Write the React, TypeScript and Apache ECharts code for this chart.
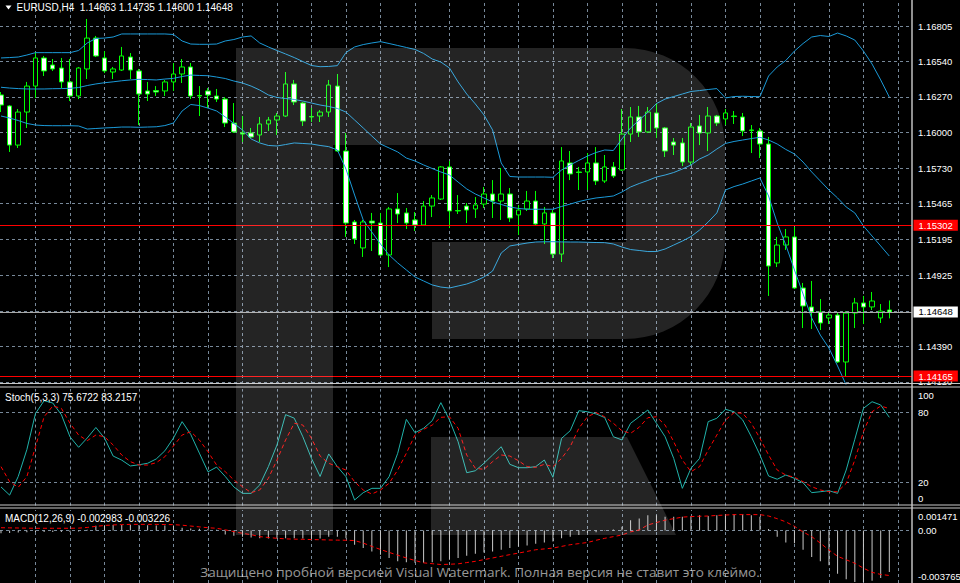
import React, { useEffect, useRef } from 'react';
import * as echarts from 'echarts';

// ---------- data (EURUSD, H4) ----------
const opens = [1.16285, 1.16202, 1.15907, 1.16156, 1.16352, 1.16564, 1.16511, 1.16488, 1.16383, 1.16277,
  1.16481, 1.16714, 1.16564, 1.16458, 1.16473, 1.16571, 1.16466, 1.16315, 1.16318, 1.16315,
  1.16383, 1.16443, 1.16496, 1.16281, 1.16315, 1.16277, 1.16254, 1.16073, 1.15998, 1.15998,
  1.15983, 1.16066, 1.16096, 1.16126, 1.16368, 1.16224, 1.16122, 1.16126, 1.16156, 1.16352,
  1.15862, 1.15327, 1.15131, 1.15334, 1.15319, 1.15078, 1.15425, 1.15395, 1.15342, 1.15304,
  1.15447, 1.15500, 1.15742, 1.15413, 1.15447, 1.15425, 1.15462, 1.15538, 1.15485, 1.15538,
  1.15380, 1.15425, 1.15485, 1.15312, 1.15395, 1.15085, 1.15772, 1.15704, 1.15704, 1.15772,
  1.15636, 1.15742, 1.15719, 1.15990, 1.16119, 1.16006, 1.16149, 1.16036, 1.15930, 1.15923,
  1.15779, 1.16051, 1.15998, 1.16126, 1.16104, 1.16126, 1.16119, 1.16021, 1.16013, 1.15915,
  1.15018, 1.15153, 1.15214, 1.14829, 1.14686, 1.14648, 1.14603, 1.14625, 1.14271, 1.14640,
  1.14716, 1.14686, 1.14603, 1.14663];

const highs = [1.16307, 1.16209, 1.16179, 1.16383, 1.16609, 1.16579, 1.16556, 1.16564, 1.16556, 1.16496,
  1.16858, 1.16730, 1.16616, 1.16496, 1.16647, 1.16601, 1.16481, 1.16383, 1.16352, 1.16398,
  1.16526, 1.16556, 1.16526, 1.16352, 1.16337, 1.16330, 1.16269, 1.16224, 1.16126, 1.16036,
  1.16119, 1.16119, 1.16149, 1.16458, 1.16398, 1.16232, 1.16187, 1.16171, 1.16398, 1.16443,
  1.15998, 1.15342, 1.15342, 1.15395, 1.15395, 1.15440, 1.15545, 1.15432, 1.15402, 1.15485,
  1.15530, 1.15749, 1.15787, 1.15530, 1.15470, 1.15515, 1.15591, 1.15643, 1.15734, 1.15583,
  1.15455, 1.15561, 1.15561, 1.15440, 1.15417, 1.15892, 1.15862, 1.15742, 1.15847, 1.15892,
  1.15832, 1.15779, 1.16179, 1.16194, 1.16202, 1.16194, 1.16224, 1.16043, 1.15960, 1.15960,
  1.16073, 1.16134, 1.16194, 1.16134, 1.16179, 1.16164, 1.16149, 1.16058, 1.16036, 1.15968,
  1.15214, 1.15274, 1.15289, 1.14867, 1.14882, 1.14746, 1.14648, 1.14640, 1.14655, 1.14754,
  1.14769, 1.14799, 1.14708, 1.14735];

const lows = [1.16156, 1.15855, 1.15885, 1.16036, 1.16262, 1.16428, 1.16466, 1.16337, 1.16239, 1.16254,
  1.16405, 1.16571, 1.16450, 1.16405, 1.16466, 1.16405, 1.16058, 1.16239, 1.16277, 1.16277,
  1.16315, 1.16375, 1.16254, 1.16126, 1.16187, 1.16232, 1.16043, 1.15998, 1.15930, 1.15960,
  1.15930, 1.16013, 1.15983, 1.16119, 1.16209, 1.16051, 1.16081, 1.16081, 1.16119, 1.15855,
  1.15214, 1.15161, 1.15063, 1.15108, 1.15070, 1.14987, 1.15319, 1.15274, 1.15259, 1.15297,
  1.15364, 1.15493, 1.15281, 1.15387, 1.15319, 1.15357, 1.15432, 1.15357, 1.15342, 1.15327,
  1.15229, 1.15410, 1.15297, 1.15161, 1.15055, 1.15025, 1.15643, 1.15568, 1.15568, 1.15606,
  1.15621, 1.15659, 1.15711, 1.15930, 1.15968, 1.15998, 1.15960, 1.15817, 1.15832, 1.15749,
  1.15757, 1.15907, 1.15862, 1.16051, 1.16058, 1.16066, 1.15975, 1.15847, 1.15809, 1.14769,
  1.14987, 1.15116, 1.14821, 1.14527, 1.14520, 1.14512, 1.14557, 1.14263, 1.14165, 1.14527,
  1.14557, 1.14663, 1.14565, 1.14600];

const closes = [1.16209, 1.15907, 1.16156, 1.16352, 1.16564, 1.16466, 1.16481, 1.16383, 1.16277, 1.16488,
  1.16714, 1.16579, 1.16466, 1.16481, 1.16579, 1.16473, 1.16292, 1.16292, 1.16307, 1.16383,
  1.16443, 1.16496, 1.16277, 1.16277, 1.16285, 1.16254, 1.16073, 1.16006, 1.15990, 1.15968,
  1.16066, 1.16096, 1.16126, 1.16368, 1.16232, 1.16088, 1.16119, 1.16156, 1.16360, 1.15862,
  1.15319, 1.15199, 1.15327, 1.15319, 1.15078, 1.15425, 1.15387, 1.15319, 1.15304, 1.15447,
  1.15508, 1.15742, 1.15410, 1.15410, 1.15417, 1.15455, 1.15538, 1.15485, 1.15538, 1.15357,
  1.15417, 1.15485, 1.15312, 1.15395, 1.15085, 1.15787, 1.15689, 1.15700, 1.15772, 1.15636,
  1.15742, 1.15674, 1.15990, 1.16119, 1.16006, 1.16156, 1.16036, 1.15862, 1.15907, 1.15779,
  1.16043, 1.15998, 1.16126, 1.16073, 1.16149, 1.16122, 1.16013, 1.16017, 1.15915, 1.14995,
  1.15153, 1.15214, 1.14829, 1.14693, 1.14648, 1.14565, 1.14625, 1.14271, 1.14640, 1.14716,
  1.14686, 1.14731, 1.14655, 1.14648];

const bbUpper = [1.16564, 1.16567, 1.16571, 1.16586, 1.16604, 1.16604, 1.16604, 1.16604, 1.16604, 1.16620,
  1.16677, 1.16711, 1.16714, 1.16722, 1.16745, 1.16745, 1.16745, 1.16745, 1.16745, 1.16745,
  1.16741, 1.16692, 1.16669, 1.16667, 1.16667, 1.16669, 1.16692, 1.16703, 1.16722, 1.16730,
  1.16677, 1.16647, 1.16620, 1.16594, 1.16567, 1.16537, 1.16507, 1.16498, 1.16500, 1.16506,
  1.16605, 1.16647, 1.16665, 1.16677, 1.16687, 1.16673, 1.16658, 1.16643, 1.16628, 1.16598,
  1.16556, 1.16533, 1.16488, 1.16383, 1.16292, 1.16217, 1.16134, 1.16021, 1.15772, 1.15670,
  1.15666, 1.15666, 1.15666, 1.15666, 1.15664, 1.15719, 1.15757, 1.15791, 1.15824, 1.15851,
  1.15870, 1.15866, 1.15953, 1.16036, 1.16096, 1.16153, 1.16220, 1.16254, 1.16273, 1.16292,
  1.16311, 1.16318, 1.16326, 1.16333, 1.16262, 1.16273, 1.16275, 1.16273, 1.16272, 1.16428,
  1.16496, 1.16545, 1.16616, 1.16673, 1.16722, 1.16733, 1.16726, 1.16752, 1.16730, 1.16699,
  1.16616, 1.16518, 1.16398, 1.16269];

const bbMiddle = [1.16343, 1.16337, 1.16333, 1.16330, 1.16330, 1.16330, 1.16332, 1.16333, 1.16335, 1.16341,
  1.16356, 1.16368, 1.16377, 1.16384, 1.16392, 1.16398, 1.16403, 1.16401, 1.16398, 1.16405,
  1.16410, 1.16424, 1.16435, 1.16432, 1.16430, 1.16420, 1.16409, 1.16390, 1.16375, 1.16352,
  1.16322, 1.16285, 1.16266, 1.16258, 1.16251, 1.16239, 1.16224, 1.16209, 1.16198, 1.16183,
  1.16156, 1.16096, 1.16036, 1.15975, 1.15915, 1.15885, 1.15855, 1.15809, 1.15787, 1.15757,
  1.15730, 1.15704, 1.15681, 1.15628, 1.15576, 1.15538, 1.15508, 1.15478, 1.15459, 1.15440,
  1.15429, 1.15423, 1.15423, 1.15423, 1.15423, 1.15444, 1.15462, 1.15481, 1.15496, 1.15508,
  1.15515, 1.15523, 1.15553, 1.15591, 1.15617, 1.15640, 1.15666, 1.15681, 1.15700, 1.15726,
  1.15757, 1.15802, 1.15832, 1.15877, 1.15919, 1.15934, 1.15945, 1.15956, 1.15966, 1.15945,
  1.15915, 1.15874, 1.15840, 1.15779, 1.15704, 1.15636, 1.15568, 1.15508, 1.15440, 1.15395,
  1.15297, 1.15221, 1.15146, 1.15070];

const bbLower = [1.16126, 1.16111, 1.16092, 1.16070, 1.16058, 1.16054, 1.16053, 1.16053, 1.16053, 1.16051,
  1.16028, 1.16032, 1.16036, 1.16039, 1.16043, 1.16043, 1.16041, 1.16043, 1.16045, 1.16054,
  1.16073, 1.16164, 1.16213, 1.16205, 1.16186, 1.16164, 1.16119, 1.16070, 1.16021, 1.15953,
  1.15923, 1.15904, 1.15900, 1.15911, 1.15923, 1.15919, 1.15915, 1.15904, 1.15895, 1.15870,
  1.15726, 1.15530, 1.15342, 1.15251, 1.15161, 1.15078, 1.15018, 1.14965, 1.14912, 1.14882,
  1.14852, 1.14836, 1.14829, 1.14844, 1.14859, 1.14882, 1.14912, 1.14957, 1.15093, 1.15146,
  1.15157, 1.15168, 1.15176, 1.15178, 1.15178, 1.15177, 1.15176, 1.15176, 1.15174, 1.15172,
  1.15171, 1.15161, 1.15138, 1.15119, 1.15112, 1.15104, 1.15104, 1.15123, 1.15153, 1.15183,
  1.15217, 1.15266, 1.15327, 1.15395, 1.15568, 1.15594, 1.15613, 1.15636, 1.15659, 1.15523,
  1.15319, 1.15153, 1.14965, 1.14784, 1.14603, 1.14474, 1.14376, 1.14241, 1.14097, 1.14030,
  1.13980, 1.13925, 1.13895, 1.13870];

const stochMain = [16, 9, 25, 48, 79, 90, 88, 78, 59, 50,
  58, 67, 58, 42.5, 39, 34, 35, 36.3, 40, 47,
  58, 72, 61, 45, 29, 33, 25, 16, 10.5, 10.5,
  17.7, 33.4, 52, 78, 75, 59, 40.5, 25, 44.3, 33.4,
  24.8, 4.8, 11.1, 14.8, 14.8, 24.8, 44.9, 74, 62.5, 66.3,
  72.8, 88.3, 73.4, 54.8, 28.2, 29.9, 36.3, 43.4, 50.5, 35.4,
  32.5, 32.5, 33.4, 39.1, 24.3, 57.7, 64.2, 81.4, 80.5, 78.6,
  75.5, 59.1, 56.3, 70.6, 76.2, 82, 70.6, 59.1, 40.5, 14.8,
  32, 40.5, 72, 74.9, 82.6, 80.5, 73.4, 59.1, 43.4, 25.4,
  22.6, 26.2, 23.4, 19.6, 11.1, 11.9, 12.8, 10.5, 30.5, 56.9,
  83.4, 89.1, 86.3, 75.6722];

const stochSignal = [33.4, 20.5, 15.7, 24.8, 50.5, 76.2, 85.4, 83.4, 70.6, 60.5,
  55.7, 60.5, 59.1, 52, 43.4, 37.7, 34.8, 34.8, 36.8, 41.9,
  51.1, 60.5, 63.4, 56.3, 46.2, 34.8, 29.1, 22, 16.2, 11.1,
  13.4, 23.4, 39.1, 56.3, 70.6, 69.1, 57.7, 42.5, 36.3, 33.4,
  30.5, 20.5, 13.4, 9.9, 13.4, 19.1, 30.5, 44.9, 60.5, 65.4,
  69.1, 75.7, 76.2, 66.3, 43.4, 32, 31.1, 37.7, 43.4, 42.5,
  38.5, 33.4, 32.8, 35.4, 33.4, 40.5, 50.5, 66.3, 76.2, 79.7,
  76.2, 70.6, 64.2, 62, 67.2, 75.4, 76.2, 69.1, 54.8, 39.1,
  29.1, 33.4, 47.7, 60.5, 73.4, 79.7, 79.2, 70.6, 57.7, 43.4,
  30.5, 26.2, 24.3, 20.5, 16.2, 13.4, 11.9, 11.9, 19.1, 39.1,
  63.4, 80.5, 85.4, 83.2157];

const macdMain = [-0.0002, -0.00018, -0.00014, -0.00012, -0.0001, -0.0001, -0.0001, -0.0001, -0.0001, -0.00008,
  0.00005, 0.00035, 0.00038, 0.0004, 0.0004, 0.00042, 0.0004, 0.00038, 0.00036, 0.00036,
  0.00036, 0.00019, 0.00015, 0.00012, 0.0001, 0.00005, -0.00028, -0.00038, -0.00045, -0.0005,
  -0.00055, -0.00057, -0.00057, -0.00055, -0.00055, -0.00057, -0.0006, -0.00057, -0.00044, -0.00044,
  -0.00056, -0.00102, -0.00126, -0.0015, -0.00173, -0.00197, -0.00221, -0.00228, -0.00232, -0.00232,
  -0.00228, -0.00221, -0.00209, -0.00197, -0.00181, -0.00167, -0.00157, -0.0015, -0.00138, -0.00126,
  -0.00114, -0.00107, -0.00095, -0.00086, -0.00079, -0.00056, -0.00044, -0.00032, -0.0002, -0.00013,
  -0.00004, 0.00008, 0.00027, 0.00074, 0.00086, 0.00109, 0.00109, 0.00098, 0.00098, 0.00098,
  0.00102, 0.00109, 0.00104, 0.00109, 0.00116, 0.00116, 0.00116, 0.00109, 0.00098, 0.0001,
  -0.00044, -0.00086, -0.00091, -0.00138, -0.0019, -0.0022, -0.0025, -0.0031, -0.0035, -0.0037,
  -0.0037, -0.0036, -0.0034, -0.002983];

const macdSignal = [0.0002, 0.00019, 0.00018, 0.00017, 0.00016, 0.00016, 0.00016, 0.00016, 0.00016, 0.00017,
  0.00022, 0.0003, 0.00036, 0.0004, 0.00042, 0.00044, 0.00044, 0.00044, 0.00044, 0.00043,
  0.00042, 0.00038, 0.00032, 0.00026, 0.0002, 0.00016, 0.00005, -0.00008, -0.0002, -0.0003,
  -0.00044, -0.0005, -0.00056, -0.0006, -0.00062, -0.00063, -0.00065, -0.00066, -0.00068, -0.00069,
  -0.0007, -0.00072, -0.0009, -0.00114, -0.00136, -0.00157, -0.00177, -0.00197, -0.00215, -0.00232,
  -0.00238, -0.00244, -0.00242, -0.00239, -0.0023, -0.00221, -0.00209, -0.00197, -0.00185, -0.00173,
  -0.00162, -0.0015, -0.00138, -0.00132, -0.00126, -0.00114, -0.00102, -0.00094, -0.00086, -0.0007,
  -0.00056, -0.00044, -0.00032, -0.0001, 0.00004, 0.0004, 0.00057, 0.00074, 0.00085, 0.00096,
  0.001, 0.00102, 0.00104, 0.00108, 0.00111, 0.00114, 0.00114, 0.00114, 0.00114, 0.00104,
  0.00085, 0.00062, 0.0003, -0.0001, -0.00044, -0.0009, -0.0014, -0.00185, -0.0021, -0.00235,
  -0.0027, -0.003, -0.00315, -0.003226];

// axis / levels
const priceTicks = [1.16805, 1.1654, 1.1627, 1.16, 1.1573, 1.15465, 1.15195, 1.14925, 1.14655, 1.1439, 1.1412];
const priceTickLabels = ['1.16805', '1.16540', '1.16270', '1.16000', '1.15730', '1.15465', '1.15195', '1.14925', '', '1.14390', '1.14120'];
const redLevels = [1.15302, 1.14165];
const bidPrice = 1.14648;
const timeGridBars = [4, 8, 12, 16, 20, 24, 28, 32, 36, 40, 44, 48, 52, 56, 60, 64, 68, 72, 76, 80, 84, 88, 92, 96, 100, 104];
const stochLevels = [20, 80];
const macdTopLabel = 0.001471;
const macdBottomLabel = -0.003765;

const headerText = 'EURUSD,H4  1.14663 1.14735 1.14600 1.14648';
const stochText = 'Stoch(5,3,3) 75.6722 83.2157';
const macdText = 'MACD(12,26,9) -0.002983 -0.003226';
const watermarkText = 'Защищено пробной версией Visual Watermark. Полная версия не ставит это клеймо.';

// watermark logo outline
const LOGO_D =
  'M236 48 H625 A100 100 0 0 1 725 148 V239 A100 100 0 0 1 625 339 H432 V242 H626 V145 H333 V535 H236 Z ' +
  'M431 437 H627 L676 535 H431 Z';
echarts.graphic.registerShape('logo', echarts.graphic.extendPath(LOGO_D, {}));

const FONT = '"Liberation Sans", Arial, sans-serif';
const GRID_COLOR = '#778899';
const DASH = [3, 3];
const HIDDEN = { color: 'rgba(0,0,0,0)', width: 0 };

function axisLabel(text: string, extra: any = {}) {
  return {
    show: true, position: 'end', formatter: text, color: '#ffffff',
    fontSize: 9.5, fontFamily: FONT, distance: 6, ...extra,
  };
}

function buildOption() {
  const vLines = timeGridBars.map((v) => ({ xAxis: v, label: { show: false } }));
  const xAx = (gridIndex: number) => ({ type: 'value', gridIndex, min: -0.116, max: 105.63, show: false });

  const mainGridLines = [
    ...vLines,
    ...priceTicks.map((v, i) => ({
      yAxis: v,
      label: priceTickLabels[i] ? axisLabel(priceTickLabels[i]) : { show: false },
    })),
  ];

  const levelLabel = (v: number, bg: string, fg: string) => ({
    show: true, position: 'end', formatter: v.toFixed(5), color: fg, backgroundColor: bg,
    padding: [1, 5, 0, 5], distance: 1.5, fontSize: 9.5, fontFamily: FONT,
  });

  const priceLines = [
    ...redLevels.map((v) => ({
      yAxis: v,
      lineStyle: { color: '#ff0000', type: 'solid', width: 1 },
      label: levelLabel(v, '#ff0000', '#ffffff'),
    })),
    {
      yAxis: bidPrice,
      lineStyle: { color: '#a8a8a8', type: 'solid', width: 1 },
      label: levelLabel(bidPrice, '#ffffff', '#000000'),
    },
  ];

  const stochGridLines = [
    ...vLines,
    ...stochLevels.map((v) => ({ yAxis: v, label: axisLabel(String(v)) })),
    { yAxis: 100, lineStyle: HIDDEN, label: axisLabel('100', { verticalAlign: 'top', lineHeight: 12 }) },
    { yAxis: 0, lineStyle: HIDDEN, label: axisLabel('0', { verticalAlign: 'bottom', lineHeight: 14 }) },
  ];

  const macdGridLines = [
    ...vLines,
    { yAxis: 0, label: axisLabel('0.00') },
    { yAxis: macdTopLabel, lineStyle: HIDDEN, label: axisLabel(String(macdTopLabel), { verticalAlign: 'top', lineHeight: 12 }) },
    { yAxis: macdBottomLabel, lineStyle: HIDDEN, label: axisLabel(String(macdBottomLabel), { verticalAlign: 'bottom', lineHeight: 14 }) },
  ];

  const gridMarkLine = (data: any[]) => ({
    silent: true, symbol: ['none', 'none'], z: 1, animation: false, precision: 6,
    lineStyle: { color: GRID_COLOR, type: DASH, width: 1 },
    label: { show: false },
    data,
  });

  const lineSeries = (name: string, values: number[], xi: number, color: string, extra: any = {}) => ({
    name, type: 'line', xAxisIndex: xi, yAxisIndex: xi, z: 4,
    data: values.map((v, i) => [i, v]),
    showSymbol: false, symbol: 'none', silent: true, animation: false,
    lineStyle: { color, width: 1, ...(extra.lineStyle || {}) },
    ...(extra.rest || {}),
  });

  return {
    backgroundColor: '#000000',
    animation: false,
    grid: [
      { left: 0, top: 0, width: 912, height: 384 },
      { left: 0, top: 389, width: 912, height: 116.6 },
      { left: 0, top: 510, width: 912, height: 74 },
    ],
    xAxis: [xAx(0), xAx(1), xAx(2)],
    yAxis: [
      { type: 'value', gridIndex: 0, min: 1.141049, max: 1.170011, show: false },
      { type: 'value', gridIndex: 1, min: 0, max: 100, show: false },
      { type: 'value', gridIndex: 2, min: -0.003765, max: 0.001471, show: false },
    ],
    series: [
      {
        name: 'EURUSD', type: 'candlestick', xAxisIndex: 0, yAxisIndex: 0, z: 3,
        data: opens.map((o, i) => [i, o, closes[i], lows[i], highs[i]]),
        barWidth: 5, silent: true, animation: false,
        itemStyle: {
          color: '#000000', color0: '#ffffff',
          borderColor: '#00ff00', borderColor0: '#00ff00', borderWidth: 1,
        },
        markLine: gridMarkLine(mainGridLines),
      },
      lineSeries('BB upper', bbUpper, 0, '#1b9ad8', {
        rest: {
          markLine: { silent: true, symbol: ['none', 'none'], z: 6, animation: false, precision: 6, data: priceLines },
        },
      }),
      lineSeries('BB middle', bbMiddle, 0, '#1b9ad8'),
      lineSeries('BB lower', bbLower, 0, '#1b9ad8'),
      lineSeries('Stoch main', stochMain, 1, '#20b2aa', {
        rest: { markLine: gridMarkLine(stochGridLines) },
      }),
      lineSeries('Stoch signal', stochSignal, 1, '#ff0000', { lineStyle: { type: [4, 3] } }),
      {
        name: 'MACD', type: 'bar', xAxisIndex: 2, yAxisIndex: 2, z: 3,
        data: macdMain.map((v, i) => [i, v]),
        barWidth: 1, silent: true, animation: false,
        itemStyle: { color: '#c8c8c8' },
        markLine: gridMarkLine(macdGridLines),
      },
      lineSeries('MACD signal', macdSignal, 2, '#ff0000', { lineStyle: { type: [4, 3] } }),
    ],
    graphic: [
      { type: 'logo', x: 0, y: 0, z: 50, silent: true, style: { fill: 'rgba(255,255,255,0.14)' } },
      { type: 'line', z: 40, silent: true, shape: { x1: 912, y1: 0, x2: 912, y2: 583 }, style: { stroke: '#c0c0c0', lineWidth: 1.5 } },
      ...[383.5, 387, 505, 508].map((y) => ({
        type: 'line', z: 40, silent: true,
        shape: { x1: 0, y1: y, x2: 960, y2: y },
        style: { stroke: '#c8c8c8', lineWidth: 1 },
      })),
      { type: 'polygon', z: 41, silent: true, shape: { points: [[5.5, 5.5], [11.5, 5.5], [8.5, 9.5]] }, style: { fill: '#ffffff' } },
      {
        type: 'text', z: 41, silent: true, x: 16.5, y: 7.5,
        style: { text: headerText, fill: '#ffffff', font: `10px ${FONT}`, textVerticalAlign: 'middle', verticalAlign: 'middle' },
      },
      {
        type: 'text', z: 41, silent: true, x: 5, y: 397,
        style: { text: stochText, fill: '#ffffff', font: `10px ${FONT}`, textVerticalAlign: 'middle', verticalAlign: 'middle' },
      },
      {
        type: 'text', z: 41, silent: true, x: 5, y: 518.5,
        style: { text: macdText, fill: '#ffffff', font: `10px ${FONT}`, textVerticalAlign: 'middle', verticalAlign: 'middle' },
      },
      {
        type: 'text', z: 60, silent: true, x: 480, y: 572,
        style: {
          text: watermarkText, fill: 'rgba(255,255,255,0.6)', font: '13.5px "Open Sans", sans-serif',
          textAlign: 'center', align: 'center', textVerticalAlign: 'middle', verticalAlign: 'middle',
        },
      },
    ],
  };
}

export default function App() {
  const ref = useRef<HTMLDivElement>(null);
  useEffect(() => {
    if (!ref.current) return;
    const chart = echarts.init(ref.current, null, { renderer: 'svg' });
    chart.setOption(buildOption() as any);
    return () => chart.dispose();
  }, []);
  return (
    <div
      ref={ref}
      style={{ position: 'fixed', left: 0, top: 0, width: 960, height: 583, background: '#000' }}
    />
  );
}
